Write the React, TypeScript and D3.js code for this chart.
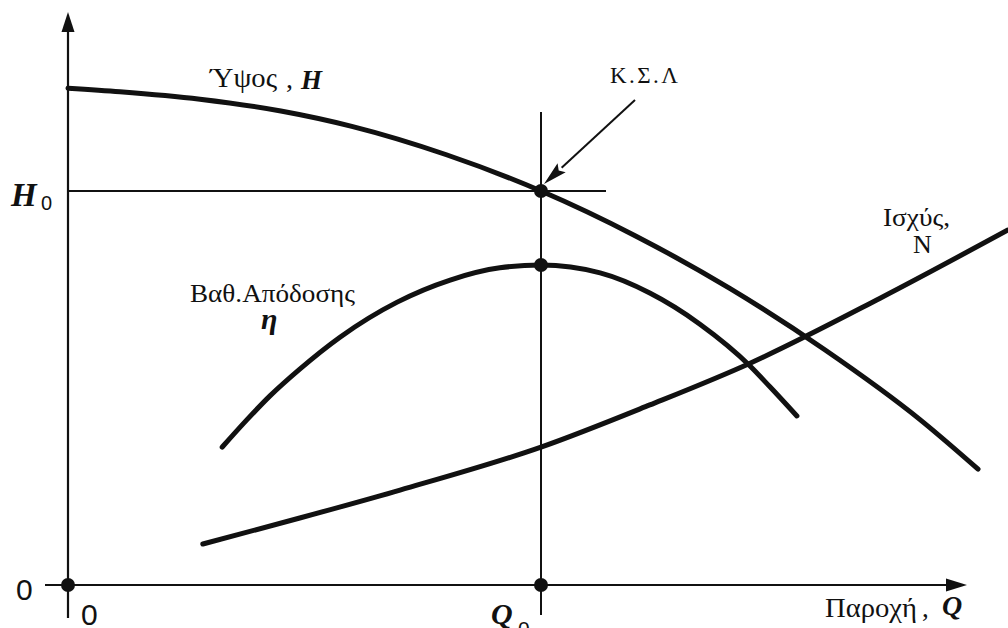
import React from "react";
import * as d3 from "d3";

// Pump characteristic curves, Q in units of Q0 and values in units of H0
const headQ = [0, 0.11, 0.279, 0.45, 0.6, 0.8, 1.0, 1.2, 1.4, 1.6, 1.8, 1.924];
const headV = [1.261, 1.252, 1.233, 1.203, 1.164, 1.092, 1.0, 0.886, 0.752, 0.597, 0.421, 0.294];

const effQ = [0.326, 0.378, 0.427, 0.49, 0.575, 0.696, 0.808, 0.913, 1.0, 1.125, 1.23, 1.336, 1.442, 1.484, 1.541];
const effV = [0.35, 0.419, 0.48, 0.548, 0.629, 0.718, 0.774, 0.805, 0.812, 0.792, 0.741, 0.662, 0.556, 0.503, 0.429];

const powQ = [0.285, 0.49, 0.702, 1.0, 1.23, 1.442, 1.717, 1.987];
const powV = [0.104, 0.17, 0.241, 0.35, 0.457, 0.563, 0.728, 0.901];

// Operating point (Q0, H0) and the efficiency at Q0
const opQ = 1.0;
const opH = 1.0;
const opEff = 0.812;

const W = 1008;
const H = 628;
const INK = "#111";
const SERIF = "'Liberation Serif', 'FreeSerif', serif";
const SANS = "'Liberation Sans', sans-serif";

export default function App() {
  const x = d3.scaleLinear().domain([0, 1]).range([68, 541]);
  const y = d3.scaleLinear().domain([0, 1]).range([585, 191]);

  const smooth = d3
    .line<[number, number]>()
    .x((d) => x(d[0]))
    .y((d) => y(d[1]))
    .curve(d3.curveMonotoneX);

  const zip = (a: number[], b: number[]) => a.map((v, i) => [v, b[i]] as [number, number]);

  const yAxisTop = 12;
  const yAxisBottom = 618;
  const xAxisLeft = 45;
  const xAxisRight = 967;

  // K.Σ.Λ pointer
  const pStart: [number, number] = [635, 100];
  const pTip: [number, number] = [x(opQ) + 3, y(opH) - 7];
  const ang = Math.atan2(pTip[1] - pStart[1], pTip[0] - pStart[0]);
  const hl = 24;
  const hw = 6;
  const bx = pTip[0] - hl * Math.cos(ang);
  const by = pTip[1] - hl * Math.sin(ang);
  const head = [
    [pTip[0], pTip[1]],
    [bx + hw * Math.sin(ang), by - hw * Math.cos(ang)],
    [bx + 4 * Math.cos(ang), by + 4 * Math.sin(ang)],
    [bx - hw * Math.sin(ang), by + hw * Math.cos(ang)],
  ]
    .map((p) => p.join(","))
    .join(" ");

  return (
    <svg
      width={W}
      height={H}
      viewBox={`0 0 ${W} ${H}`}
      style={{ position: "absolute", left: 0, top: 0, background: "#fff" }}
    >
      <rect width={W} height={H} fill="#fff" />

      {/* axes */}
      <line x1={x(0)} y1={yAxisBottom} x2={x(0)} y2={yAxisTop + 10} stroke={INK} strokeWidth={2.2} />
      <polygon
        points={`${x(0)},${yAxisTop} ${x(0) - 6.5},${yAxisTop + 20} ${x(0) + 6.5},${yAxisTop + 20}`}
        fill={INK}
      />
      <line x1={xAxisLeft} y1={y(0)} x2={xAxisRight - 10} y2={y(0)} stroke={INK} strokeWidth={2.2} />
      <polygon
        points={`${xAxisRight},${y(0)} ${xAxisRight - 21},${y(0) - 6.5} ${xAxisRight - 21},${y(0) + 6.5}`}
        fill={INK}
      />

      {/* H0 and Q0 guide lines */}
      <line x1={x(0)} y1={y(opH)} x2={606} y2={y(opH)} stroke={INK} strokeWidth={2} />
      <line x1={x(opQ)} y1={112} x2={x(opQ)} y2={615} stroke={INK} strokeWidth={2} />

      {/* curves */}
      <path d={smooth(zip(headQ, headV)) || ""} fill="none" stroke={INK} strokeWidth={5} strokeLinecap="round" />
      <path d={smooth(zip(effQ, effV)) || ""} fill="none" stroke={INK} strokeWidth={5} strokeLinecap="round" />
      <path d={smooth(zip(powQ, powV)) || ""} fill="none" stroke={INK} strokeWidth={5} strokeLinecap="round" />

      {/* points */}
      <circle cx={x(opQ)} cy={y(opH)} r={7} fill={INK} />
      <circle cx={x(opQ)} cy={y(opEff)} r={7} fill={INK} />
      <circle cx={x(opQ)} cy={y(0)} r={7} fill={INK} />
      <circle cx={x(0)} cy={y(0)} r={7} fill={INK} />

      {/* pointer to the operating point */}
      <line x1={pStart[0]} y1={pStart[1]} x2={bx} y2={by} stroke={INK} strokeWidth={2} />
      <polygon points={head} fill={INK} />

      {/* labels */}
      <text x={210} y={87} fontFamily={SERIF} fontSize={28} fill={INK} textLength={67} lengthAdjust="spacingAndGlyphs">
        Ύψος
      </text>
      <text x={286} y={88} fontFamily={SERIF} fontSize={28} fill={INK}>
        ,
      </text>
      <text x={301} y={89} fontFamily={SERIF} fontSize={27} fontWeight="bold" fontStyle="italic" fill={INK}>
        H
      </text>

      <text x={610} y={83} fontFamily={SERIF} fontSize={23} fill={INK} textLength={68} lengthAdjust="spacing">
        Κ.Σ.Λ
      </text>

      <text x={11} y={206} fontFamily={SERIF} fontSize={33} fontWeight="bold" fontStyle="italic" fill={INK}>
        H
      </text>
      <text x={41} y={210} fontFamily={SANS} fontSize={20} fill={INK}>
        0
      </text>

      <text x={190} y={302} fontFamily={SERIF} fontSize={26} fill={INK} textLength={165} lengthAdjust="spacingAndGlyphs">
        Βαθ.Απόδοσης
      </text>
      <text x={261} y={329} fontFamily={SERIF} fontSize={30} fontWeight="bold" fontStyle="italic" fill={INK}>
        η
      </text>

      <text x={883} y={226} fontFamily={SERIF} fontSize={26} fill={INK} textLength={67} lengthAdjust="spacingAndGlyphs">
        Ισχύς,
      </text>
      <text x={913} y={253} fontFamily={SERIF} fontSize={26} fill={INK}>
        N
      </text>

      <text x={825} y={617} fontFamily={SERIF} fontSize={27} fill={INK} textLength={92} lengthAdjust="spacingAndGlyphs">
        Παροχή
      </text>
      <text x={922} y={617} fontFamily={SERIF} fontSize={27} fill={INK}>
        ,
      </text>
      <text x={942} y={615} fontFamily={SERIF} fontSize={28} fontWeight="bold" fontStyle="italic" fill={INK}>
        Q
      </text>

      <text x={491} y={624} fontFamily={SERIF} fontSize={30} fontWeight="bold" fontStyle="italic" fill={INK}>
        Q
      </text>
      <text x={518} y={636} fontFamily={SANS} fontSize={21} fill={INK}>
        0
      </text>

      <text x={16} y={600} fontFamily={SANS} fontSize={30} fill={INK}>
        0
      </text>
      <text x={81} y={625} fontFamily={SANS} fontSize={30} fill={INK}>
        0
      </text>
    </svg>
  );
}
